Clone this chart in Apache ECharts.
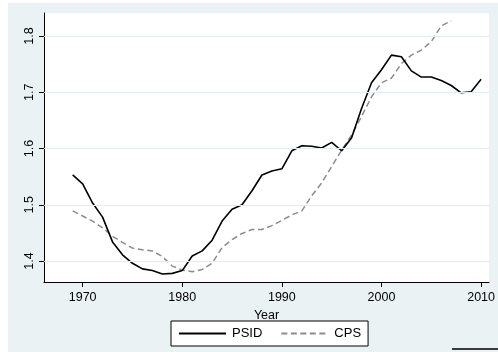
<!DOCTYPE html>
<html><head><meta charset="utf-8">
<script src="https://cdn.jsdelivr.net/npm/echarts@6/dist/echarts.min.js"></script>
<style>
html,body{margin:0;padding:0;background:#fff;}
#bg{position:absolute;left:8px;top:3px;width:490px;height:349px;background:#EAF2F3;}
#c{position:absolute;left:0;top:0;width:498px;height:352px;}
</style></head>
<body><div id="bg"></div><div id="c"></div>
<script>
const psidYears = [1969,1970,1971,1972,1973,1974,1975,1976,1977,1978,1979,1980,1981,1982,1983,1984,1985,1986,1987,1988,1989,1990,1991,1992,1993,1994,1995,1996,1997,1998,1999,2000,2001,2002,2003,2004,2005,2006,2007,2008,2009,2010];
const psidValues = [1.553,1.537,1.503,1.478,1.434,1.411,1.396,1.386,1.383,1.377,1.378,1.383,1.409,1.418,1.437,1.471,1.492,1.500,1.525,1.553,1.560,1.564,1.596,1.605,1.604,1.601,1.611,1.596,1.619,1.671,1.717,1.740,1.766,1.763,1.738,1.727,1.727,1.721,1.712,1.699,1.701,1.723];
const cpsYears = [1969,1970,1971,1972,1973,1974,1975,1976,1977,1978,1979,1980,1981,1982,1983,1984,1985,1986,1987,1988,1989,1990,1991,1992,1993,1994,1995,1996,1997,1998,1999,2000,2001,2002,2003,2004,2005,2006,2007];
const cpsValues = [1.489,1.480,1.471,1.459,1.444,1.433,1.423,1.420,1.418,1.408,1.391,1.384,1.381,1.385,1.396,1.424,1.438,1.449,1.456,1.456,1.463,1.472,1.482,1.489,1.516,1.539,1.568,1.597,1.624,1.657,1.692,1.717,1.725,1.751,1.766,1.775,1.790,1.818,1.827];
const xTicks = [1970,1980,1990,2000,2010];
const yTicks = [1.4,1.5,1.6,1.7,1.8];
const seriesNames = ['PSID','CPS'];

const font = "'Liberation Sans', Arial, sans-serif";
const chart = echarts.init(document.getElementById('c'), null, {renderer:'canvas'});
const zip = (xs, ys) => xs.map((x,i)=>[x, ys[i]]);
chart.setOption({
  backgroundColor: 'transparent',
  animation: false,
  textStyle: {fontFamily: font},
  grid: {left:44, top:13, right:5, bottom:70, show:true, backgroundColor:'#fff', borderWidth:0},
  xAxis: {
    type:'value', min:1966.12, max:2010.8,
    name:'Year', nameLocation:'middle', nameGap:20,
    nameTextStyle:{fontSize:12.5, color:'#000', fontFamily:font, verticalAlign:'top'},
    axisLine:{show:true, onZero:false, lineStyle:{color:'#000', width:1}},
    axisTick:{show:true, length:5, customValues:xTicks, lineStyle:{color:'#000'}},
    axisLabel:{customValues:xTicks, fontSize:12.5, color:'#000', margin:9, fontFamily:font,
      formatter: v => String(Math.round(v))},
    splitLine:{show:false}
  },
  yAxis: {
    type:'value', min:1.3627, max:1.8409,
    axisLine:{show:true, onZero:false, lineStyle:{color:'#000', width:1}},
    axisTick:{show:true, length:5, customValues:yTicks, lineStyle:{color:'#000'}},
    axisLabel:{customValues:yTicks, rotate:90, fontSize:12.5, color:'#000', margin:8, fontFamily:font,
      formatter: v => v.toFixed(1)},
    splitLine:{show:false}
  },
  legend: {
    data: seriesNames, left:171, top:321, orient:'horizontal',
    padding:[6,7], itemWidth:47, itemHeight:14, itemGap:18,
    itemStyle:{color:'rgba(0,0,0,0)', borderWidth:0, borderColor:'rgba(0,0,0,0)'},
    backgroundColor:'#fff', borderColor:'#000', borderWidth:1,
    textStyle:{fontSize:13, color:'#000', fontFamily:font, padding:[0,0,0,1]}
  },
  series: [
    {
      name:'grid', type:'line', data:[], silent:true, z:1,
      markLine:{silent:true, symbol:'none', label:{show:false},
        lineStyle:{color:'#E3ECEE', width:1.2, type:'solid'},
        data: yTicks.map(v=>({yAxis:v}))}
    },
    {name:seriesNames[0], type:'line', data:zip(psidYears, psidValues), symbol:'none', z:3,
      lineStyle:{color:'#000', width:1.6}, itemStyle:{color:'#000'}},
    {name:seriesNames[1], type:'line', data:zip(cpsYears, cpsValues), symbol:'none', z:2,
      lineStyle:{color:'#8c8c8c', width:1.5, type:[6,3.5]}, itemStyle:{color:'#8c8c8c'}}
  ],
  graphic: [
    {type:'line', shape:{x1:452, y1:349, x2:498, y2:349}, style:{stroke:'#000', lineWidth:1.5}}
  ]
});
</script></body></html>
